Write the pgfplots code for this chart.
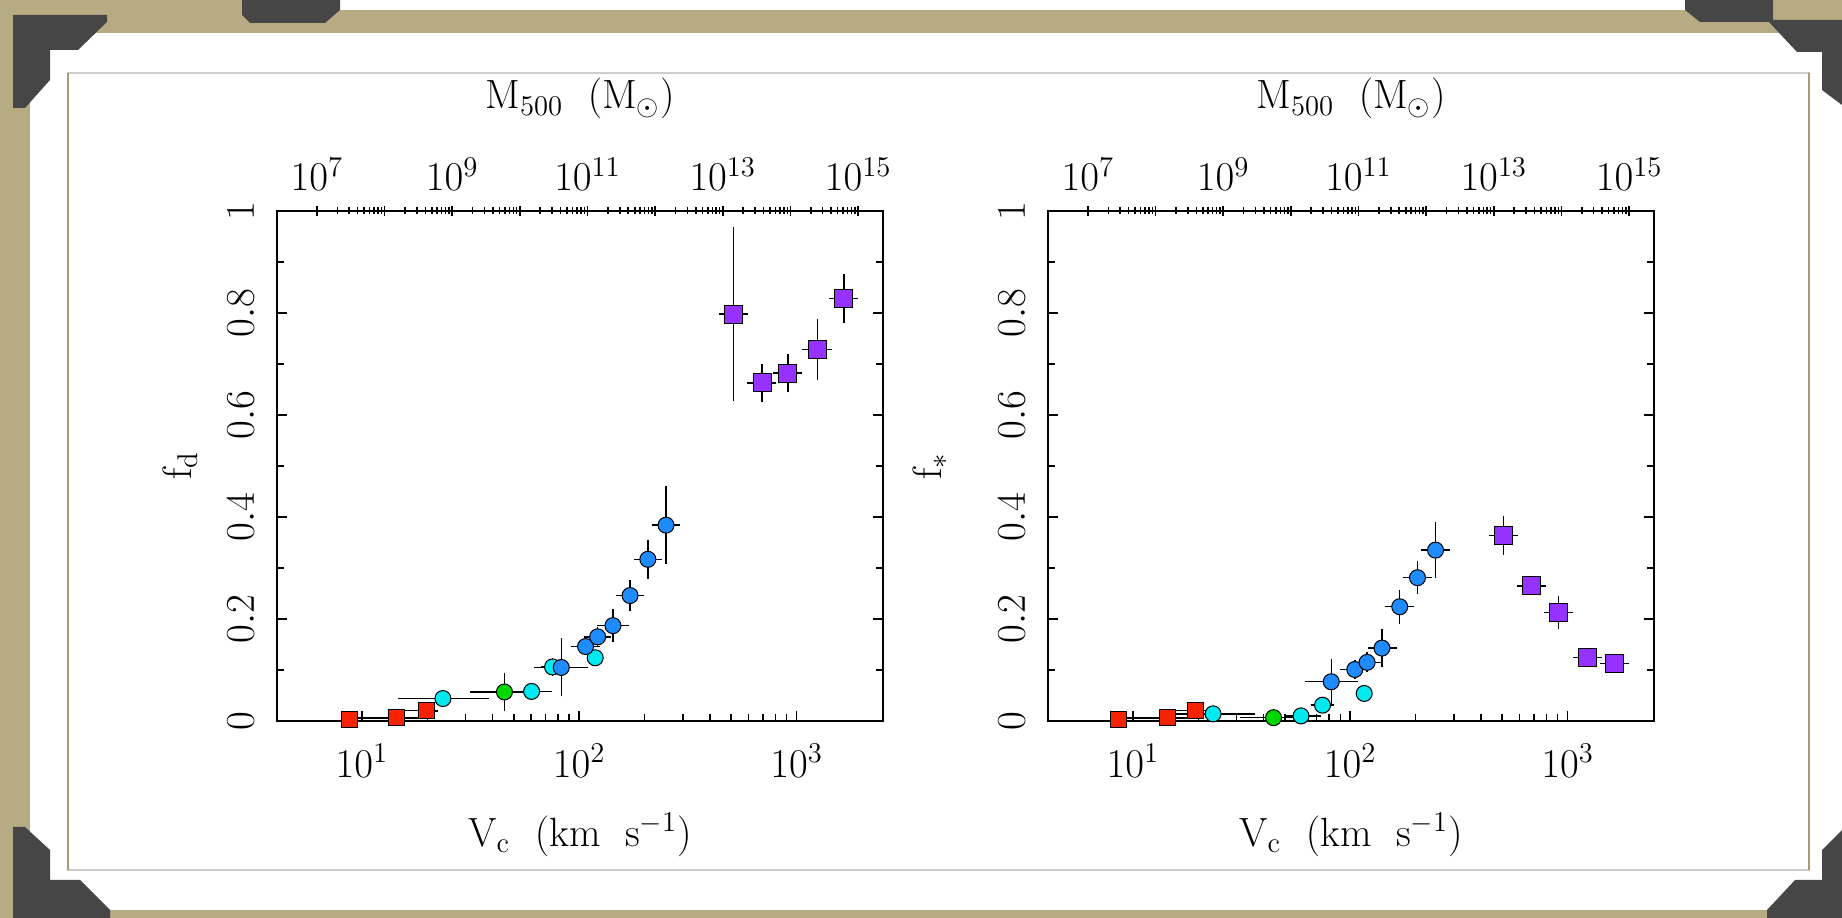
\RequirePackage{fix-cm}
\documentclass[border=0pt]{standalone}
\usepackage{fontspec}
\usepackage{pgfplots}
\pgfplotsset{compat=1.18}
\usepackage{pgfplotstable}

\definecolor{framec}{RGB}{183,171,131}
\definecolor{orn}{RGB}{70,70,70}
\definecolor{lineg}{RGB}{205,205,205}
\definecolor{linet}{RGB}{168,155,118}
\definecolor{pred}{RGB}{245,35,0}
\definecolor{pcyan}{RGB}{0,232,240}
\definecolor{pgreen}{RGB}{0,215,0}
\definecolor{pblue}{RGB}{30,140,255}
\definecolor{ppurple}{RGB}{150,50,255}

% left panel: f_d
\pgfplotstableread{
x y exm exp eym eyp
8.8 0.003 0 0 0 0
14.5 0.006 5.6 4.5 0 0
19.8 0.020 4.6 1.6 0.004 0.004
}\Lred
\pgfplotstableread{
x y exm exp eym eyp
23.6 0.044 8.3 13.1 0.008 0.008
60.4 0.058 7.8 11.3 0.006 0.006
75.4 0.106 6 6 0.01 0.01
118.5 0.124 0 0 0.006 0.006
}\Lcyan
\pgfplotstableread{
x y exm exp eym eyp
45.3 0.057 12.5 13 0.03 0.03
}\Lgreen
\pgfplotstableread{
x y exm exp eym eyp
82.7 0.105 18 22 0.049 0.049
107 0.146 11 12 0.008 0.008
121.6 0.165 12 13 0.012 0.012
143 0.187 17 20 0.025 0.025
171.5 0.246 18 19 0.022 0.022
207 0.317 21 23 0.03 0.03
251 0.384 26 28 0.068 0.068
}\Lblue
\pgfplotstableread{
x y exm exp eym eyp
514 0.798 55 60 0.162 0.163
695 0.663 75 80 0.03 0.03
912 0.682 100 105 0.03 0.03
1245 0.729 135 145 0.052 0.052
1652 0.828 180 190 0.04 0.04
}\Lpurple

% right panel: f_*
\pgfplotstableread{
x y exm exp eym eyp
8.6 0.002 0 0 0 0
14.4 0.006 5.5 4.5 0 0
19.4 0.021 4.5 1.6 0.004 0.004
}\Rred
\pgfplotstableread{
x y exm exp eym eyp
23.4 0.014 8 11.4 0.005 0.005
59.4 0.010 7.5 11 0.005 0.005
74.6 0.031 6 6 0.008 0.008
116 0.054 0 0 0.005 0.005
}\Rcyan
\pgfplotstableread{
x y exm exp eym eyp
44.4 0.0065 12 13 0.004 0.004
}\Rgreen
\pgfplotstableread{
x y exm exp eym eyp
81.8 0.077 17 22.6 0.037 0.037
105 0.101 11 12 0.01 0.01
119.6 0.115 12 13 0.012 0.012
140 0.143 14 17 0.03 0.03
169 0.224 18 19 0.025 0.025
204 0.281 21 23 0.025 0.025
247 0.335 26 28 0.047 0.047
}\Rblue
\pgfplotstableread{
x y exm exp eym eyp
507 0.364 55 60 0.03 0.03
684 0.265 75 80 0.01 0.01
910 0.213 100 105 0.025 0.025
1240 0.125 135 145 0.008 0.008
1652 0.113 180 190 0.008 0.008
}\Rpurple

\pgfplotsset{
  every axis/.append style={font=\fontsize{20.5}{24}\selectfont},
  panel/.style={scale only axis, width=303bp, height=255bp, anchor=south west,
    axis line style={line width=1bp}, every tick/.style={black, line width=0.75bp},
    major tick length=5bp, minor tick length=3.5bp},
  pts/.style={only marks, mark=*, mark size=4bp,
    mark options={draw=black, line width=0.5bp, fill=#1},
    error bars/x dir=both, error bars/y dir=both,
    error bars/x explicit, error bars/y explicit,
    error bars/error bar style={black, line width=0.7bp},
    error bars/error mark options={black, line width=0.7bp, mark size=2bp}},
  table/errcols/.style={x=x, y=y, x error minus=exm, x error plus=exp,
    y error minus=eym, y error plus=eyp},
}

\newcommand{\topaxis}[1]{%
\begin{axis}[panel, at={#1}, xmode=log, xmin=2.57e6, xmax=2.34e15, ymin=0, ymax=1,
  axis x line*=top, hide y axis, tick align=center,
  xtick={1e7,1e8,1e9,1e10,1e11,1e12,1e13,1e14,1e15},
  xticklabels={$10^{7}$,{},$10^{9}$,{},$10^{11}$,{},$10^{13}$,{},$10^{15}$},
  xticklabel shift=4bp,
  xlabel={$\mathrm{M_{500}\ \ (M_{\odot})}$},
  xlabel style={at={(axis description cs:0.5,1.22)}, anchor=center}]
\end{axis}}

\begin{document}
\begin{tikzpicture}
% slide frame
\fill[framec] (0,0) rectangle (921bp,459bp);
\fill[white] (15bp,4bp) rectangle (921bp,442.5bp);
\fill[white] (167.5bp,454bp) rectangle (842.5bp,459bp);
\draw[lineg, line width=0.75bp] (34bp,24bp) rectangle (904.5bp,422.5bp);
\draw[linet, line width=0.9bp] (34bp,24bp) -- (34bp,422.5bp);
\draw[linet, line width=0.9bp] (904.5bp,24bp) -- (904.5bp,422.5bp);
\fill[orn] (6.5bp,451.5bp) -- (53.5bp,451.5bp) -- (53.5bp,448bp) -- (39bp,434bp) -- (25bp,434bp) -- (25bp,419bp) -- (12.5bp,405bp) -- (6.5bp,405bp) -- cycle;
\fill[orn] (121bp,459bp) -- (170bp,459bp) -- (170bp,454bp) -- (162.5bp,447.5bp) -- (125bp,447.5bp) -- (121bp,451.5bp) -- cycle;
\fill[orn] (842.5bp,459bp) -- (886.5bp,459bp) -- (886.5bp,448bp) -- (850bp,448bp) -- (842.5bp,454bp) -- cycle;
\fill[orn] (883.5bp,449bp) -- (921bp,449bp) -- (921bp,406.5bp) -- (911bp,414bp) -- (911bp,433bp) -- (898.5bp,433bp) -- cycle;
\fill[orn] (921bp,44bp) -- (921bp,0bp) -- (883.5bp,0bp) -- (883.5bp,4bp) -- (897.5bp,19bp) -- (911bp,19bp) -- (911bp,34bp) -- cycle;
\fill[orn] (6.5bp,45.5bp) -- (12.5bp,45.5bp) -- (25bp,34bp) -- (25bp,19bp) -- (40bp,19bp) -- (55bp,4bp) -- (55bp,0bp) -- (6.5bp,0bp) -- cycle;

% left panel
\topaxis{(138.5bp,98.5bp)}
\begin{axis}[panel, at={(138.5bp,98.5bp)},
  xmode=log, xmin=4.07, xmax=2500, ymin=0, ymax=1,
  xtick={10,100,1000}, xtick pos=bottom, tick align=inside,
  ytick={0,0.2,0.4,0.6,0.8,1}, minor ytick={0.1,0.3,0.5,0.7,0.9},
  yticklabel pos=left, yticklabel style={rotate=90, anchor=south},
  yticklabel shift=8bp, xticklabel shift=8bp,
  xlabel={$\mathrm{V_c\ \ (km\ \ s^{-1})}$},
  xlabel style={at={(axis description cs:0.5,-0.2235)}, anchor=center},
  ylabel={$\mathrm{f_d}$},
  ylabel style={at={(axis description cs:-0.16,0.5)}, anchor=center},
  clip=false]
\addplot[pts=pred, mark=square*] table[errcols]{\Lred};
\addplot[pts=pcyan] table[errcols]{\Lcyan};
\addplot[pts=pgreen] table[errcols]{\Lgreen};
\addplot[pts=pblue] table[errcols]{\Lblue};
\addplot[pts=ppurple, mark=square*, mark size=4.5bp] table[errcols]{\Lpurple};
\end{axis}

% right panel
\topaxis{(524bp,98.5bp)}
\begin{axis}[panel, at={(524bp,98.5bp)},
  xmode=log, xmin=4.07, xmax=2500, ymin=0, ymax=1,
  xtick={10,100,1000}, xtick pos=bottom, tick align=inside,
  ytick={0,0.2,0.4,0.6,0.8,1}, minor ytick={0.1,0.3,0.5,0.7,0.9},
  yticklabel pos=left, yticklabel style={rotate=90, anchor=south},
  yticklabel shift=8bp, xticklabel shift=8bp,
  xlabel={$\mathrm{V_c\ \ (km\ \ s^{-1})}$},
  xlabel style={at={(axis description cs:0.5,-0.2235)}, anchor=center},
  ylabel={$\mathrm{f_*}$},
  ylabel style={at={(axis description cs:-0.195,0.5)}, anchor=center},
  clip=false]
\addplot[pts=pred, mark=square*] table[errcols]{\Rred};
\addplot[pts=pcyan] table[errcols]{\Rcyan};
\addplot[pts=pgreen] table[errcols]{\Rgreen};
\addplot[pts=pblue] table[errcols]{\Rblue};
\addplot[pts=ppurple, mark=square*, mark size=4.5bp] table[errcols]{\Rpurple};
\end{axis}
\end{tikzpicture}
\end{document}
